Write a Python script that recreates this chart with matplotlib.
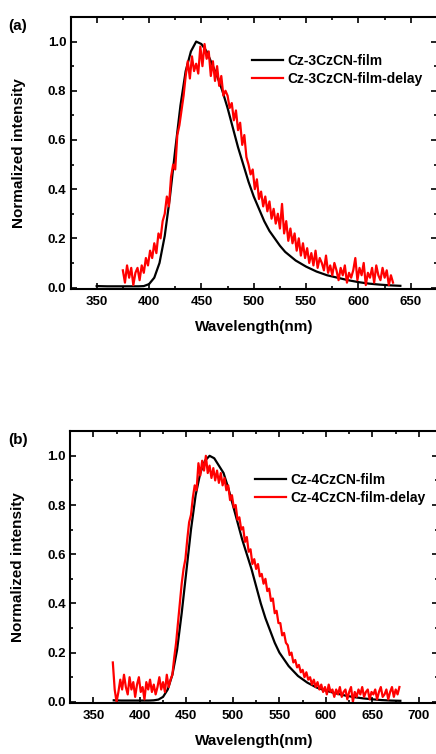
import numpy as np
import matplotlib
matplotlib.use('Agg')
import matplotlib.pyplot as plt
from matplotlib.ticker import MultipleLocator

plt.rcParams['font.family'] = ['Liberation Sans', 'DejaVu Sans']
plt.rcParams['font.weight'] = 'bold'

# panel (a) - Cz-3CzCN
a_film_x = [350, 360, 370, 380, 390, 395, 400, 405, 410, 415, 420, 425, 430, 435, 440, 445,
            450, 455, 460, 465, 470, 475, 480, 485, 490, 495, 500, 505, 510, 515, 520, 525,
            530, 540, 550, 560, 570, 580, 590, 600, 610, 620, 630, 640]
a_film_y = [0.006, 0.005, 0.005, 0.005, 0.005, 0.006, 0.014, 0.04, 0.10, 0.21, 0.37, 0.56,
            0.74, 0.88, 0.96, 1.0, 0.99, 0.96, 0.91, 0.86, 0.80, 0.73, 0.65, 0.57, 0.50, 0.43,
            0.37, 0.32, 0.27, 0.23, 0.20, 0.17, 0.145, 0.11, 0.085, 0.065, 0.05, 0.04, 0.03,
            0.022, 0.016, 0.012, 0.009, 0.007]
a_delay_x = np.arange(375, 634, 2)
a_delay_y = [0.07, 0.02, 0.09, 0.04, 0.08, 0.01, 0.06, 0.08, 0.03, 0.09,
             0.06, 0.12, 0.09, 0.15, 0.12, 0.18, 0.14, 0.22, 0.20, 0.27,
             0.30, 0.37, 0.33, 0.45, 0.50, 0.48, 0.62, 0.66, 0.72, 0.78,
             0.86, 0.92, 0.85, 0.94, 0.88, 0.91, 0.87, 0.98, 0.90, 0.99,
             0.93, 0.96, 0.86, 0.92, 0.84, 0.90, 0.82, 0.86, 0.78, 0.80,
             0.78, 0.73, 0.75, 0.68, 0.72, 0.64, 0.67, 0.58, 0.62, 0.53,
             0.50, 0.46, 0.48, 0.40, 0.44, 0.36, 0.39, 0.33, 0.37, 0.31,
             0.35, 0.28, 0.32, 0.26, 0.30, 0.24, 0.34, 0.22, 0.27, 0.19,
             0.24, 0.18, 0.22, 0.15, 0.20, 0.13, 0.18, 0.12, 0.16, 0.10,
             0.14, 0.09, 0.15, 0.08, 0.12, 0.10, 0.07, 0.13, 0.06, 0.09,
             0.05, 0.10, 0.07, 0.03, 0.08, 0.05, 0.09, 0.02, 0.06, 0.04,
             0.07, 0.12, 0.03, 0.08, 0.05, 0.10, 0.01, 0.06, 0.04, 0.08,
             0.02, 0.09, 0.05, 0.03, 0.08, 0.04, 0.07, 0.01, 0.05, 0.02]

# panel (b) - Cz-4CzCN
b_film_x = [372, 380, 390, 400, 410, 415, 420, 425, 430, 435, 440, 445, 450, 455, 460, 465,
            470, 475, 480, 485, 490, 495, 500, 505, 510, 515, 520, 525, 530, 535, 540, 545,
            550, 560, 570, 580, 590, 600, 610, 620, 630, 640, 650, 660, 670, 680]
b_film_y = [0.006, 0.005, 0.005, 0.005, 0.005, 0.006, 0.009, 0.02, 0.05, 0.11, 0.21, 0.36,
            0.53, 0.70, 0.84, 0.93, 0.98, 1.0, 0.99, 0.96, 0.93, 0.87, 0.80, 0.73, 0.66, 0.60,
            0.54, 0.47, 0.40, 0.34, 0.29, 0.24, 0.20, 0.145, 0.105, 0.078, 0.058, 0.045,
            0.035, 0.026, 0.019, 0.014, 0.01, 0.007, 0.005, 0.004]
b_delay_x = np.arange(371, 680, 2)
b_delay_y = [0.16, 0.05, 0.00, 0.04, 0.09, 0.05, 0.11, 0.06, 0.03, 0.10,
             0.05, 0.08, 0.02, 0.07, 0.10, 0.04, 0.06, 0.01, 0.08, 0.05,
             0.09, 0.04, 0.07, 0.03, 0.06, 0.10, 0.05, 0.08, 0.04, 0.11,
             0.06, 0.09, 0.11, 0.18, 0.24, 0.32, 0.40, 0.48, 0.54, 0.58,
             0.66, 0.73, 0.76, 0.83, 0.88, 0.86, 0.97, 0.92, 0.98, 0.94,
             1.0, 0.93, 0.96, 0.91, 0.95, 0.90, 0.94, 0.89, 0.93, 0.88,
             0.91, 0.86, 0.88, 0.82, 0.84, 0.79, 0.80, 0.74, 0.75, 0.70,
             0.71, 0.65, 0.67, 0.61, 0.62, 0.56, 0.58, 0.54, 0.56, 0.51,
             0.52, 0.48, 0.50, 0.45, 0.46, 0.41, 0.42, 0.36, 0.37, 0.32,
             0.32, 0.27, 0.28, 0.24, 0.23, 0.19, 0.20, 0.16, 0.17, 0.14,
             0.15, 0.12, 0.13, 0.10, 0.12, 0.09, 0.10, 0.07, 0.09, 0.06,
             0.08, 0.05, 0.07, 0.04, 0.06, 0.03, 0.07, 0.04, 0.05, 0.02,
             0.05, 0.03, 0.06, 0.02, 0.04, 0.05, 0.01, 0.04, 0.06, 0.00,
             0.04, 0.02, 0.05, 0.03, 0.06, 0.02, 0.04, 0.05, 0.01, 0.04,
             0.03, 0.05, 0.01, 0.04, 0.06, 0.02, 0.03, 0.05, 0.01, 0.04,
             0.06, 0.02, 0.05, 0.03, 0.06]

panels = [
    ('(a)', a_film_x, a_film_y, a_delay_x, a_delay_y, 'Cz-3CzCN-film', 'Cz-3CzCN-film-delay',
     (325, 675), [0.1617, 0.617, 0.8406, 0.3605], (252, 54)),
    ('(b)', b_film_x, b_film_y, b_delay_x, b_delay_y, 'Cz-4CzCN-film', 'Cz-4CzCN-film-delay',
     (325, 720), [0.1606, 0.0676, 0.843, 0.3605], (255, 473)),
]

W, H = 436, 754
fig = plt.figure(figsize=(W / 100, H / 100), dpi=100)

for tag, fx, fy, dx, dy, l1, l2, xlim, pos, legpos in panels:
    ax = fig.add_axes(pos)
    ax.plot(fx, fy, color='black', lw=1.6, label=l1)
    ax.plot(dx, dy, color='red', lw=1.6, label=l2)
    ax.set_xlim(*xlim)
    ax.set_ylim(-0.005, 1.1)
    ax.xaxis.set_minor_locator(MultipleLocator(25))
    ax.yaxis.set_minor_locator(MultipleLocator(0.1))
    ax.set_xticks(np.arange(350, xlim[1] + 1, 50))
    ax.set_yticks(np.arange(0, 1.01, 0.2))
    ax.tick_params(which='both', direction='in', top=True, right=True, width=1.2)
    ax.tick_params(which='major', length=4, labelsize=9.5)
    ax.tick_params(which='minor', length=2.5)
    ax.tick_params(axis='x', pad=5)
    ax.tick_params(axis='y', pad=3)
    for s in ax.spines.values():
        s.set_linewidth(1.5)
    ax.set_xlabel('Wavelength(nm)', fontsize=11, fontweight='bold', labelpad=9)
    ax.set_ylabel('Normalized intensity', fontsize=11, fontweight='bold')
    ax.yaxis.set_label_coords(-0.122, 0.5)
    ax.legend(loc='upper left', bbox_to_anchor=(legpos[0] / W, 1 - legpos[1] / H),
              bbox_transform=fig.transFigure, frameon=False, fontsize=10,
              handlelength=2.2, handletextpad=0.35, labelspacing=0.3,
              borderpad=0, borderaxespad=0)
    top_px = H * (1 - (pos[1] + pos[3]))
    fig.text(8 / W, 1 - (top_px + 9) / H, tag, fontsize=11, fontweight='bold', va='center')

fig.savefig('out.png', dpi=100)
